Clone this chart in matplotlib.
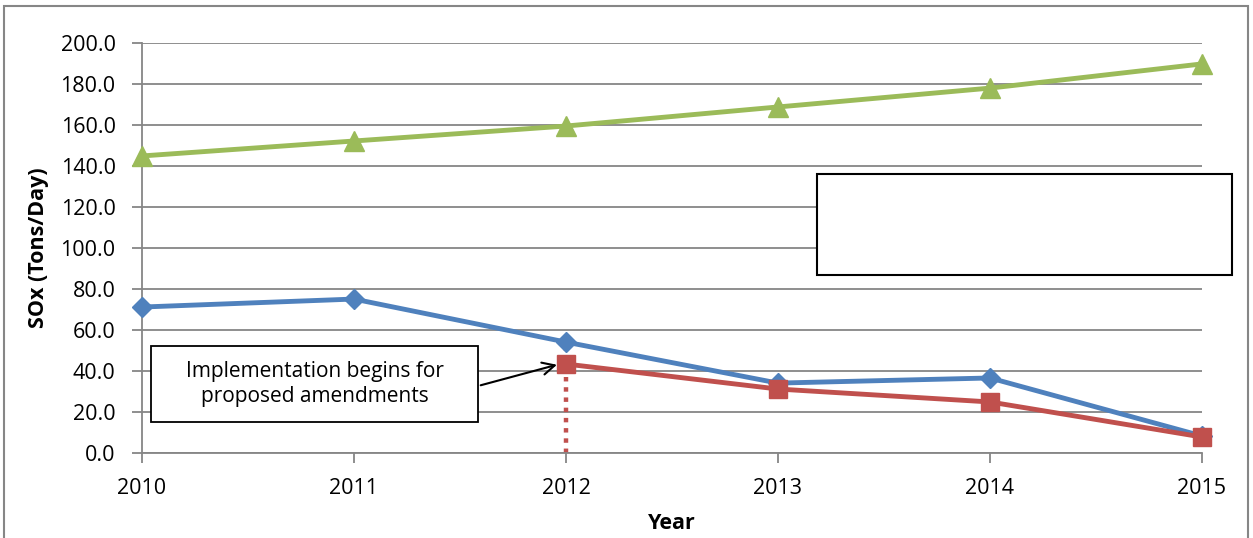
import matplotlib
matplotlib.use("Agg")
import matplotlib.pyplot as plt
from matplotlib.patches import Rectangle

years = [2010, 2011, 2012, 2013, 2014, 2015]
baseline = [71.2, 75.1, 54.1, 34.1, 36.6, 8.3]
amend_years = [2012, 2013, 2014, 2015]
amended = [43.4, 31.2, 24.9, 7.8]
growth = [144.9, 152.2, 159.5, 168.8, 178.0, 189.8]
yticks = [0, 20, 40, 60, 80, 100, 120, 140, 160, 180, 200]
impl_year = 2012
impl_top = 53.0
note = "Implementation begins for\nproposed amendments"

plt.rcParams['font.family'] = ['Open Sans', 'DejaVu Sans']

W, H = 1253, 538
fig = plt.figure(figsize=(W/100, H/100), dpi=100)
ax = fig.add_axes([142/W, 1-453/H, (1202-142)/W, (453-43)/H])

grid_c = '#868686'
ax.set_xlim(2010, 2015)
ax.set_ylim(0, 200)
ax.set_yticks(yticks)
ax.set_yticklabels([f"{v:.1f}" for v in yticks])
ax.set_xticks(years)
ax.set_xticklabels([str(y) for y in years])
ax.grid(axis='y', color=grid_c, lw=1.3)
ax.set_axisbelow(True)
for s in ['top', 'right']:
    ax.spines[s].set_visible(False)
for s in ['left', 'bottom']:
    ax.spines[s].set_color(grid_c)
    ax.spines[s].set_linewidth(1.3)
ax.tick_params(axis='both', color=grid_c, length=7, width=1.3, labelsize=15.5)
ax.tick_params(axis='y', pad=12)
ax.tick_params(axis='x', pad=11)

ax.plot([impl_year, impl_year], [0, impl_top], color='#C0504D', lw=3.2,
        linestyle=(0, (1, 1.3)), zorder=2)
ax.plot(years, growth, color='#9BBB59', lw=3.5, marker='^', ms=14, clip_on=False, zorder=3)
ax.plot(years, baseline, color='#4F81BD', lw=3.5, marker='D', ms=10, clip_on=False, zorder=3)
ax.plot(amend_years, amended, color='#C0504D', lw=3.5, marker='s', ms=13, clip_on=False, zorder=4)

ax.set_ylabel("SOx (Tons/Day)", fontsize=15.5, fontweight='bold', labelpad=8)
ax.set_xlabel("Year", fontsize=15.5, fontweight='bold', labelpad=10)

# annotation box
ax.annotate("", xy=(impl_year - 0.03, amended[0]), xycoords='data',
            xytext=(478/W, 1-386/H), textcoords='figure fraction',
            arrowprops=dict(arrowstyle='->', color='black', lw=1.5, mutation_scale=22),
            zorder=6)
fig.patches.append(Rectangle((151/W, 1-422/H), (478-151)/W, (422-346)/H,
                             transform=fig.transFigure, facecolor='white',
                             edgecolor='black', lw=1.3, zorder=5))
fig.text((151+478)/2/W, 1-384/H, note, ha='center', va='center', fontsize=15,
         linespacing=1.3, zorder=7)

# empty box
fig.patches.append(Rectangle((817/W, 1-275/H), (1232-817)/W, (275-174)/H,
                             transform=fig.transFigure, facecolor='white',
                             edgecolor='black', lw=1.5, zorder=5))

# figure border
fig.patches.append(Rectangle((3.5/W, -0.01), (1248-3.5)/W, (1-6/H)+0.01,
                             transform=fig.transFigure, facecolor='none',
                             edgecolor=grid_c, lw=1.5, zorder=0))

fig.savefig("out.png", dpi=100)
